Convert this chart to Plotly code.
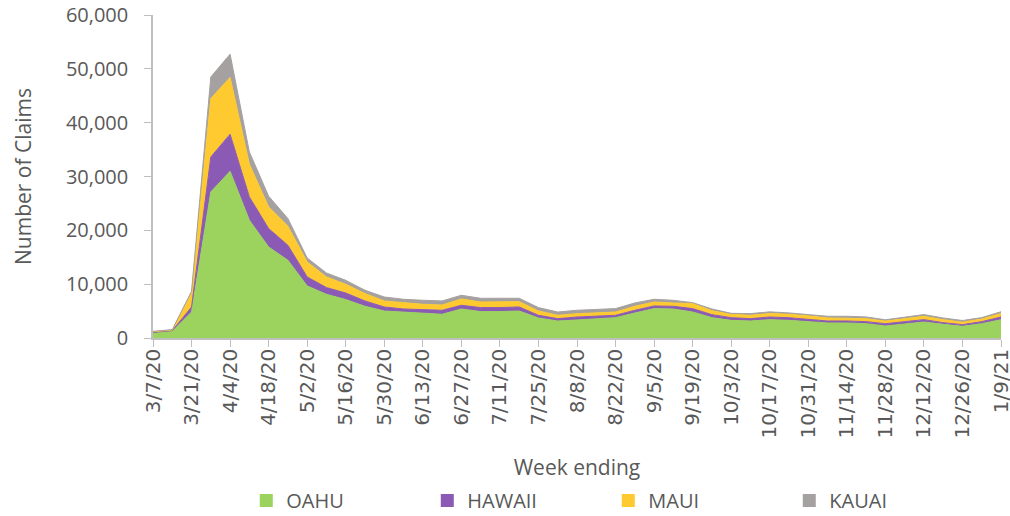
import pandas as pd
import plotly.graph_objects as go

weeks = [d.strftime("%-m/%-d/%y") for d in pd.date_range("2020-03-07", "2021-01-09", freq="7D")]

oahu = [900, 1250, 4830, 27140, 30980, 21880, 16910, 14440, 9670, 8120, 7140, 5890,
        5020, 4830, 4650, 4410, 5390, 4910, 4910, 5020, 3720, 3160, 3350, 3530,
        3780, 4650, 5460, 5390, 4830, 3780, 3280, 3160, 3410, 3280, 3100, 2790,
        2790, 2660, 2230, 2660, 2970, 2540, 2170, 2660, 3400]
hawaii = [150, 120, 930, 6500, 6880, 4330, 3420, 2790, 1670, 1250, 1220, 990,
          740, 560, 630, 740, 690, 740, 740, 750, 500, 440, 550, 560,
          440, 500, 490, 500, 630, 560, 500, 440, 490, 490, 430, 370,
          370, 380, 430, 370, 440, 310, 310, 380, 500]
maui = [120, 100, 2490, 10860, 10540, 6080, 4020, 3530, 2790, 1970, 1620, 1370,
        1120, 1120, 980, 980, 1170, 1040, 1040, 980, 800, 620, 620, 620,
        610, 740, 740, 620, 930, 740, 620, 620, 650, 650, 610, 560,
        560, 550, 480, 560, 630, 560, 460, 500, 650]
kauai = [80, 90, 430, 4000, 4330, 2280, 1990, 1430, 740, 740, 740, 620,
         740, 680, 750, 750, 690, 690, 690, 630, 630, 610, 630, 620,
         630, 620, 500, 490, 180, 310, 180, 310, 310, 240, 240, 320,
         320, 320, 250, 320, 310, 310, 310, 250, 330]

series = [("OAHU", oahu, "#9BD35E"), ("HAWAII", hawaii, "#8A5AB5"),
          ("MAUI", maui, "#FFCA2F"), ("KAUAI", kauai, "#A5A1A0")]

fig = go.Figure()
for name, vals, col in series:
    fig.add_trace(go.Scatter(
        x=weeks, y=vals, name=name, stackgroup="one", mode="lines",
        line=dict(color=col, width=1), fillcolor=col, showlegend=False))
for name, vals, col in series:
    fig.add_trace(go.Scatter(
        x=[None], y=[None], name=name, mode="markers",
        marker=dict(symbol="square", size=13, color=col), showlegend=True))

tickvals = weeks[::2]
font = "'Open Sans', sans-serif"
fig.update_layout(
    width=1010, height=516,
    margin=dict(l=153, r=9, t=15, b=178, autoexpand=False),
    plot_bgcolor="white", paper_bgcolor="white",
    font=dict(family=font, color="#595959"),
    xaxis=dict(type="category", range=[0, len(weeks) - 1], automargin=False,
               tickmode="array", tickvals=tickvals, ticktext=tickvals,
               tickangle=-90, tickfont=dict(size=20, family="'DejaVu Sans', sans-serif"),
               ticklabelstandoff=-6,
               showline=True, linecolor="#BFBFBF", linewidth=1.5,
               ticks="outside", ticklen=7, tickcolor="#BFBFBF",
               showgrid=False,
               title=dict(text="Week ending", font=dict(size=21), standoff=24)),
    yaxis=dict(range=[0, 60000], dtick=10000, tickformat=",", automargin=False,
               tickfont=dict(size=20), ticklabelstandoff=12,
               showline=True, linecolor="#BFBFBF", linewidth=1.5,
               ticks="outside", ticklen=7, tickcolor="#BFBFBF",
               showgrid=False, zeroline=False,
               title=dict(text="Number of Claims", font=dict(size=21), standoff=29)),
    legend=dict(orientation="h", x=0.11, xanchor="left", xref="paper",
                yref="container", y=0.03, yanchor="middle",
                font=dict(size=20), entrywidth=136, traceorder="normal",
                itemwidth=30),
    showlegend=True,
)

fig.write_html("out.html", config={"displayModeBar": False},
               post_script="document.body.style.margin='0';")
